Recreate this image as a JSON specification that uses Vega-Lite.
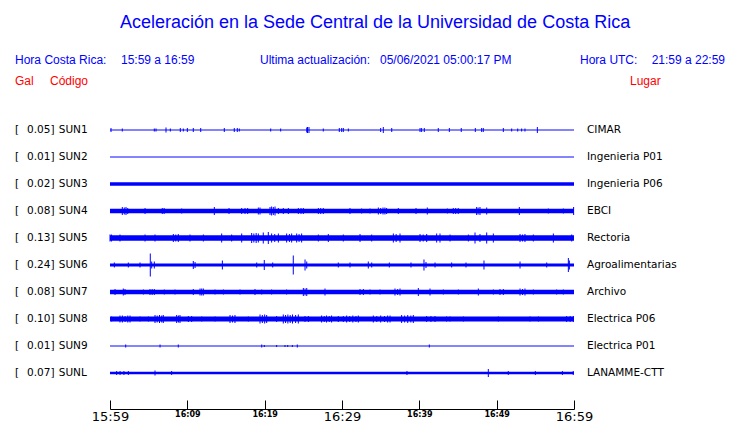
{
  "$schema": "https://vega.github.io/schema/vega-lite/v6.json",
  "width": 464,
  "height": 387,
  "autosize": {"type": "none"},
  "padding": {"left": 110, "top": 22, "right": 166, "bottom": 14},
  "background": "white",
  "config": {"view": {"stroke": null}, "font": "Liberation Sans"},
  "datasets": {
    "estaciones": [
      {"fila": 1, "codigo": "SUN1", "gal": 0.05, "lugar": "CIMAR", "ruido": 0.009},
      {"fila": 2, "codigo": "SUN2", "gal": 0.01, "lugar": "Ingenieria P01", "ruido": 0.009},
      {"fila": 3, "codigo": "SUN3", "gal": 0.02, "lugar": "Ingenieria P06", "ruido": 0.032},
      {"fila": 4, "codigo": "SUN4", "gal": 0.08, "lugar": "EBCI", "ruido": 0.042},
      {"fila": 5, "codigo": "SUN5", "gal": 0.13, "lugar": "Rectoria", "ruido": 0.051},
      {"fila": 6, "codigo": "SUN6", "gal": 0.24, "lugar": "Agroalimentarias", "ruido": 0.028},
      {"fila": 7, "codigo": "SUN7", "gal": 0.08, "lugar": "Archivo", "ruido": 0.042},
      {"fila": 8, "codigo": "SUN8", "gal": 0.10, "lugar": "Electrica P06", "ruido": 0.046},
      {"fila": 9, "codigo": "SUN9", "gal": 0.01, "lugar": "Electrica P01", "ruido": 0.009},
      {"fila": 10, "codigo": "SUNL", "gal": 0.07, "lugar": "LANAMME-CTT", "ruido": 0.023}
    ],
    "eventos": [
      {"codigo": "SUN1", "t": 0.13, "amp": 0.037}, {"codigo": "SUN1", "t": 1.59, "amp": 0.028}, {"codigo": "SUN1", "t": 5.73, "amp": 0.028}, {"codigo": "SUN1", "t": 5.95, "amp": 0.028},
      {"codigo": "SUN1", "t": 7.24, "amp": 0.046}, {"codigo": "SUN1", "t": 7.80, "amp": 0.028}, {"codigo": "SUN1", "t": 9.09, "amp": 0.037}, {"codigo": "SUN1", "t": 9.48, "amp": 0.028},
      {"codigo": "SUN1", "t": 10.0, "amp": 0.037}, {"codigo": "SUN1", "t": 10.77, "amp": 0.037}, {"codigo": "SUN1", "t": 11.73, "amp": 0.037}, {"codigo": "SUN1", "t": 14.78, "amp": 0.037},
      {"codigo": "SUN1", "t": 16.07, "amp": 0.037}, {"codigo": "SUN1", "t": 16.46, "amp": 0.037}, {"codigo": "SUN1", "t": 16.72, "amp": 0.028}, {"codigo": "SUN1", "t": 20.78, "amp": 0.028},
      {"codigo": "SUN1", "t": 22.07, "amp": 0.028}, {"codigo": "SUN1", "t": 25.44, "amp": 0.046}, {"codigo": "SUN1", "t": 25.54, "amp": 0.056}, {"codigo": "SUN1", "t": 25.73, "amp": 0.056},
      {"codigo": "SUN1", "t": 27.58, "amp": 0.028}, {"codigo": "SUN1", "t": 29.65, "amp": 0.037}, {"codigo": "SUN1", "t": 29.96, "amp": 0.037}, {"codigo": "SUN1", "t": 30.17, "amp": 0.037},
      {"codigo": "SUN1", "t": 30.82, "amp": 0.028}, {"codigo": "SUN1", "t": 35.0, "amp": 0.037}, {"codigo": "SUN1", "t": 35.34, "amp": 0.056}, {"codigo": "SUN1", "t": 36.43, "amp": 0.037},
      {"codigo": "SUN1", "t": 40.09, "amp": 0.037}, {"codigo": "SUN1", "t": 40.30, "amp": 0.037}, {"codigo": "SUN1", "t": 40.64, "amp": 0.037}, {"codigo": "SUN1", "t": 42.45, "amp": 0.037},
      {"codigo": "SUN1", "t": 43.88, "amp": 0.037}, {"codigo": "SUN1", "t": 45.42, "amp": 0.037}, {"codigo": "SUN1", "t": 47.24, "amp": 0.037}, {"codigo": "SUN1", "t": 48.06, "amp": 0.037},
      {"codigo": "SUN1", "t": 48.27, "amp": 0.037}, {"codigo": "SUN1", "t": 50.86, "amp": 0.037}, {"codigo": "SUN1", "t": 51.94, "amp": 0.028}, {"codigo": "SUN1", "t": 52.72, "amp": 0.028},
      {"codigo": "SUN1", "t": 53.23, "amp": 0.028}, {"codigo": "SUN1", "t": 53.66, "amp": 0.028}, {"codigo": "SUN1", "t": 55.26, "amp": 0.056},

      {"codigo": "SUN4", "t": 1.59, "amp": 0.074}, {"codigo": "SUN4", "t": 1.85, "amp": 0.065}, {"codigo": "SUN4", "t": 2.07, "amp": 0.074}, {"codigo": "SUN4", "t": 2.29, "amp": 0.056},
      {"codigo": "SUN4", "t": 4.53, "amp": 0.056}, {"codigo": "SUN4", "t": 6.76, "amp": 0.056}, {"codigo": "SUN4", "t": 7.0, "amp": 0.056}, {"codigo": "SUN4", "t": 9.27, "amp": 0.046},
      {"codigo": "SUN4", "t": 13.49, "amp": 0.074}, {"codigo": "SUN4", "t": 15.39, "amp": 0.056}, {"codigo": "SUN4", "t": 17.03, "amp": 0.056}, {"codigo": "SUN4", "t": 17.46, "amp": 0.056},
      {"codigo": "SUN4", "t": 17.8, "amp": 0.056}, {"codigo": "SUN4", "t": 19.18, "amp": 0.065}, {"codigo": "SUN4", "t": 19.4, "amp": 0.065}, {"codigo": "SUN4", "t": 20.69, "amp": 0.074},
      {"codigo": "SUN4", "t": 20.9, "amp": 0.083}, {"codigo": "SUN4", "t": 21.12, "amp": 0.074}, {"codigo": "SUN4", "t": 21.34, "amp": 0.083}, {"codigo": "SUN4", "t": 21.77, "amp": 0.056},
      {"codigo": "SUN4", "t": 22.41, "amp": 0.056}, {"codigo": "SUN4", "t": 23.06, "amp": 0.056}, {"codigo": "SUN4", "t": 24.35, "amp": 0.056}, {"codigo": "SUN4", "t": 24.7, "amp": 0.056},
      {"codigo": "SUN4", "t": 25.0, "amp": 0.056}, {"codigo": "SUN4", "t": 26.94, "amp": 0.056}, {"codigo": "SUN4", "t": 27.25, "amp": 0.056}, {"codigo": "SUN4", "t": 27.58, "amp": 0.056},
      {"codigo": "SUN4", "t": 31.03, "amp": 0.056}, {"codigo": "SUN4", "t": 32.54, "amp": 0.046}, {"codigo": "SUN4", "t": 33.62, "amp": 0.046}, {"codigo": "SUN4", "t": 34.7, "amp": 0.065},
      {"codigo": "SUN4", "t": 35.0, "amp": 0.056}, {"codigo": "SUN4", "t": 35.3, "amp": 0.065}, {"codigo": "SUN4", "t": 35.55, "amp": 0.065}, {"codigo": "SUN4", "t": 35.77, "amp": 0.056},
      {"codigo": "SUN4", "t": 37.28, "amp": 0.056}, {"codigo": "SUN4", "t": 39.57, "amp": 0.056}, {"codigo": "SUN4", "t": 41.03, "amp": 0.065}, {"codigo": "SUN4", "t": 43.62, "amp": 0.046},
      {"codigo": "SUN4", "t": 44.39, "amp": 0.056}, {"codigo": "SUN4", "t": 44.7, "amp": 0.056}, {"codigo": "SUN4", "t": 45.03, "amp": 0.056}, {"codigo": "SUN4", "t": 47.41, "amp": 0.074},
      {"codigo": "SUN4", "t": 47.6, "amp": 0.065}, {"codigo": "SUN4", "t": 47.84, "amp": 0.074}, {"codigo": "SUN4", "t": 48.71, "amp": 0.065}, {"codigo": "SUN4", "t": 52.93, "amp": 0.074},
      {"codigo": "SUN4", "t": 56.68, "amp": 0.046}, {"codigo": "SUN4", "t": 58.62, "amp": 0.046}, {"codigo": "SUN4", "t": 59.95, "amp": 0.074},

      {"codigo": "SUN5", "t": 0.0, "amp": 0.065}, {"codigo": "SUN5", "t": 0.2, "amp": 0.065}, {"codigo": "SUN5", "t": 1.29, "amp": 0.065}, {"codigo": "SUN5", "t": 4.53, "amp": 0.065},
      {"codigo": "SUN5", "t": 5.82, "amp": 0.065}, {"codigo": "SUN5", "t": 8.19, "amp": 0.074}, {"codigo": "SUN5", "t": 8.5, "amp": 0.065}, {"codigo": "SUN5", "t": 8.83, "amp": 0.074},
      {"codigo": "SUN5", "t": 10.34, "amp": 0.065}, {"codigo": "SUN5", "t": 12.07, "amp": 0.065}, {"codigo": "SUN5", "t": 14.44, "amp": 0.083}, {"codigo": "SUN5", "t": 15.73, "amp": 0.065},
      {"codigo": "SUN5", "t": 17.03, "amp": 0.083}, {"codigo": "SUN5", "t": 18.32, "amp": 0.093}, {"codigo": "SUN5", "t": 18.6, "amp": 0.083}, {"codigo": "SUN5", "t": 18.9, "amp": 0.093},
      {"codigo": "SUN5", "t": 19.18, "amp": 0.083}, {"codigo": "SUN5", "t": 19.82, "amp": 0.102}, {"codigo": "SUN5", "t": 20.47, "amp": 0.111}, {"codigo": "SUN5", "t": 20.9, "amp": 0.083},
      {"codigo": "SUN5", "t": 21.3, "amp": 0.074}, {"codigo": "SUN5", "t": 21.77, "amp": 0.083}, {"codigo": "SUN5", "t": 22.84, "amp": 0.083}, {"codigo": "SUN5", "t": 23.2, "amp": 0.074},
      {"codigo": "SUN5", "t": 23.49, "amp": 0.083}, {"codigo": "SUN5", "t": 24.14, "amp": 0.083}, {"codigo": "SUN5", "t": 24.45, "amp": 0.074}, {"codigo": "SUN5", "t": 24.78, "amp": 0.083},
      {"codigo": "SUN5", "t": 26.94, "amp": 0.065}, {"codigo": "SUN5", "t": 28.23, "amp": 0.074}, {"codigo": "SUN5", "t": 30.17, "amp": 0.065}, {"codigo": "SUN5", "t": 32.33, "amp": 0.074},
      {"codigo": "SUN5", "t": 33.84, "amp": 0.065}, {"codigo": "SUN5", "t": 36.64, "amp": 0.083}, {"codigo": "SUN5", "t": 37.0, "amp": 0.074}, {"codigo": "SUN5", "t": 37.5, "amp": 0.083},
      {"codigo": "SUN5", "t": 40.09, "amp": 0.074}, {"codigo": "SUN5", "t": 40.5, "amp": 0.065}, {"codigo": "SUN5", "t": 40.95, "amp": 0.074}, {"codigo": "SUN5", "t": 42.24, "amp": 0.083},
      {"codigo": "SUN5", "t": 42.67, "amp": 0.083}, {"codigo": "SUN5", "t": 43.97, "amp": 0.065}, {"codigo": "SUN5", "t": 46.34, "amp": 0.065}, {"codigo": "SUN5", "t": 47.2, "amp": 0.102},
      {"codigo": "SUN5", "t": 47.84, "amp": 0.074}, {"codigo": "SUN5", "t": 48.71, "amp": 0.102}, {"codigo": "SUN5", "t": 49.57, "amp": 0.083}, {"codigo": "SUN5", "t": 53.02, "amp": 0.074},
      {"codigo": "SUN5", "t": 53.35, "amp": 0.065}, {"codigo": "SUN5", "t": 53.66, "amp": 0.074}, {"codigo": "SUN5", "t": 54.74, "amp": 0.065}, {"codigo": "SUN5", "t": 57.33, "amp": 0.083},
      {"codigo": "SUN5", "t": 59.7, "amp": 0.065},

      {"codigo": "SUN6", "t": 0.56, "amp": 0.046}, {"codigo": "SUN6", "t": 2.37, "amp": 0.046}, {"codigo": "SUN6", "t": 3.88, "amp": 0.046}, {"codigo": "SUN6", "t": 5.21, "amp": 0.213},
      {"codigo": "SUN6", "t": 5.39, "amp": 0.065}, {"codigo": "SUN6", "t": 5.73, "amp": 0.065}, {"codigo": "SUN6", "t": 10.77, "amp": 0.074}, {"codigo": "SUN6", "t": 11.0, "amp": 0.056},
      {"codigo": "SUN6", "t": 14.53, "amp": 0.083}, {"codigo": "SUN6", "t": 18.97, "amp": 0.046}, {"codigo": "SUN6", "t": 19.95, "amp": 0.093}, {"codigo": "SUN6", "t": 21.04, "amp": 0.046},
      {"codigo": "SUN6", "t": 23.7, "amp": 0.176}, {"codigo": "SUN6", "t": 25.22, "amp": 0.102}, {"codigo": "SUN6", "t": 25.44, "amp": 0.065}, {"codigo": "SUN6", "t": 29.52, "amp": 0.046},
      {"codigo": "SUN6", "t": 31.03, "amp": 0.046}, {"codigo": "SUN6", "t": 33.4, "amp": 0.065}, {"codigo": "SUN6", "t": 33.84, "amp": 0.046}, {"codigo": "SUN6", "t": 36.12, "amp": 0.046},
      {"codigo": "SUN6", "t": 38.92, "amp": 0.046}, {"codigo": "SUN6", "t": 40.6, "amp": 0.102}, {"codigo": "SUN6", "t": 40.86, "amp": 0.056}, {"codigo": "SUN6", "t": 42.03, "amp": 0.046},
      {"codigo": "SUN6", "t": 44.18, "amp": 0.046}, {"codigo": "SUN6", "t": 46.03, "amp": 0.046}, {"codigo": "SUN6", "t": 48.36, "amp": 0.083}, {"codigo": "SUN6", "t": 53.02, "amp": 0.065},
      {"codigo": "SUN6", "t": 56.47, "amp": 0.046}, {"codigo": "SUN6", "t": 59.27, "amp": 0.13}, {"codigo": "SUN6", "t": 59.4, "amp": 0.083},

      {"codigo": "SUN7", "t": 0.65, "amp": 0.056}, {"codigo": "SUN7", "t": 1.72, "amp": 0.065}, {"codigo": "SUN7", "t": 1.94, "amp": 0.056}, {"codigo": "SUN7", "t": 4.31, "amp": 0.046},
      {"codigo": "SUN7", "t": 5.17, "amp": 0.056}, {"codigo": "SUN7", "t": 5.45, "amp": 0.056}, {"codigo": "SUN7", "t": 5.73, "amp": 0.056}, {"codigo": "SUN7", "t": 7.02, "amp": 0.046},
      {"codigo": "SUN7", "t": 8.41, "amp": 0.046}, {"codigo": "SUN7", "t": 10.77, "amp": 0.056}, {"codigo": "SUN7", "t": 11.64, "amp": 0.065}, {"codigo": "SUN7", "t": 11.86, "amp": 0.065},
      {"codigo": "SUN7", "t": 12.07, "amp": 0.065}, {"codigo": "SUN7", "t": 13.58, "amp": 0.046}, {"codigo": "SUN7", "t": 14.66, "amp": 0.046}, {"codigo": "SUN7", "t": 16.81, "amp": 0.046},
      {"codigo": "SUN7", "t": 18.75, "amp": 0.056}, {"codigo": "SUN7", "t": 19.62, "amp": 0.046}, {"codigo": "SUN7", "t": 20.9, "amp": 0.046}, {"codigo": "SUN7", "t": 22.84, "amp": 0.046},
      {"codigo": "SUN7", "t": 25.0, "amp": 0.074}, {"codigo": "SUN7", "t": 25.22, "amp": 0.065}, {"codigo": "SUN7", "t": 25.44, "amp": 0.074}, {"codigo": "SUN7", "t": 27.8, "amp": 0.065},
      {"codigo": "SUN7", "t": 32.33, "amp": 0.056}, {"codigo": "SUN7", "t": 32.76, "amp": 0.056}, {"codigo": "SUN7", "t": 33.62, "amp": 0.046}, {"codigo": "SUN7", "t": 34.91, "amp": 0.046},
      {"codigo": "SUN7", "t": 36.85, "amp": 0.065}, {"codigo": "SUN7", "t": 37.2, "amp": 0.056}, {"codigo": "SUN7", "t": 37.5, "amp": 0.065}, {"codigo": "SUN7", "t": 39.87, "amp": 0.074},
      {"codigo": "SUN7", "t": 41.38, "amp": 0.065}, {"codigo": "SUN7", "t": 43.1, "amp": 0.046}, {"codigo": "SUN7", "t": 45.04, "amp": 0.046}, {"codigo": "SUN7", "t": 47.63, "amp": 0.065},
      {"codigo": "SUN7", "t": 49.57, "amp": 0.046}, {"codigo": "SUN7", "t": 50.43, "amp": 0.056}, {"codigo": "SUN7", "t": 50.86, "amp": 0.056}, {"codigo": "SUN7", "t": 53.02, "amp": 0.065},
      {"codigo": "SUN7", "t": 53.35, "amp": 0.056}, {"codigo": "SUN7", "t": 53.66, "amp": 0.065}, {"codigo": "SUN7", "t": 54.74, "amp": 0.046}, {"codigo": "SUN7", "t": 57.76, "amp": 0.046},
      {"codigo": "SUN7", "t": 58.62, "amp": 0.046},

      {"codigo": "SUN8", "t": 0.22, "amp": 0.046}, {"codigo": "SUN8", "t": 1.29, "amp": 0.065}, {"codigo": "SUN8", "t": 1.6, "amp": 0.065}, {"codigo": "SUN8", "t": 1.95, "amp": 0.056},
      {"codigo": "SUN8", "t": 2.3, "amp": 0.065}, {"codigo": "SUN8", "t": 2.59, "amp": 0.065}, {"codigo": "SUN8", "t": 3.88, "amp": 0.046}, {"codigo": "SUN8", "t": 4.96, "amp": 0.046},
      {"codigo": "SUN8", "t": 5.82, "amp": 0.074}, {"codigo": "SUN8", "t": 6.1, "amp": 0.065}, {"codigo": "SUN8", "t": 6.4, "amp": 0.074}, {"codigo": "SUN8", "t": 6.69, "amp": 0.065},
      {"codigo": "SUN8", "t": 6.89, "amp": 0.074}, {"codigo": "SUN8", "t": 8.62, "amp": 0.074}, {"codigo": "SUN8", "t": 8.85, "amp": 0.065}, {"codigo": "SUN8", "t": 9.05, "amp": 0.074},
      {"codigo": "SUN8", "t": 10.13, "amp": 0.056}, {"codigo": "SUN8", "t": 10.56, "amp": 0.056}, {"codigo": "SUN8", "t": 11.86, "amp": 0.046}, {"codigo": "SUN8", "t": 13.58, "amp": 0.046},
      {"codigo": "SUN8", "t": 15.52, "amp": 0.074}, {"codigo": "SUN8", "t": 15.85, "amp": 0.065}, {"codigo": "SUN8", "t": 16.16, "amp": 0.074}, {"codigo": "SUN8", "t": 17.89, "amp": 0.046},
      {"codigo": "SUN8", "t": 19.4, "amp": 0.083}, {"codigo": "SUN8", "t": 19.7, "amp": 0.074}, {"codigo": "SUN8", "t": 20.0, "amp": 0.083}, {"codigo": "SUN8", "t": 20.26, "amp": 0.074},
      {"codigo": "SUN8", "t": 21.55, "amp": 0.056}, {"codigo": "SUN8", "t": 22.41, "amp": 0.083}, {"codigo": "SUN8", "t": 22.7, "amp": 0.074}, {"codigo": "SUN8", "t": 23.0, "amp": 0.083},
      {"codigo": "SUN8", "t": 23.3, "amp": 0.074}, {"codigo": "SUN8", "t": 23.6, "amp": 0.083}, {"codigo": "SUN8", "t": 24.0, "amp": 0.074}, {"codigo": "SUN8", "t": 24.35, "amp": 0.083},
      {"codigo": "SUN8", "t": 25.22, "amp": 0.056}, {"codigo": "SUN8", "t": 25.65, "amp": 0.056}, {"codigo": "SUN8", "t": 27.36, "amp": 0.065}, {"codigo": "SUN8", "t": 27.7, "amp": 0.056},
      {"codigo": "SUN8", "t": 28.0, "amp": 0.065}, {"codigo": "SUN8", "t": 28.35, "amp": 0.056}, {"codigo": "SUN8", "t": 28.65, "amp": 0.065}, {"codigo": "SUN8", "t": 29.52, "amp": 0.056},
      {"codigo": "SUN8", "t": 30.17, "amp": 0.056}, {"codigo": "SUN8", "t": 30.6, "amp": 0.065}, {"codigo": "SUN8", "t": 31.0, "amp": 0.056}, {"codigo": "SUN8", "t": 31.4, "amp": 0.065},
      {"codigo": "SUN8", "t": 31.8, "amp": 0.056}, {"codigo": "SUN8", "t": 32.11, "amp": 0.065}, {"codigo": "SUN8", "t": 34.05, "amp": 0.065}, {"codigo": "SUN8", "t": 34.5, "amp": 0.056},
      {"codigo": "SUN8", "t": 35.0, "amp": 0.065}, {"codigo": "SUN8", "t": 35.5, "amp": 0.056}, {"codigo": "SUN8", "t": 35.9, "amp": 0.065}, {"codigo": "SUN8", "t": 36.21, "amp": 0.065},
      {"codigo": "SUN8", "t": 37.71, "amp": 0.074}, {"codigo": "SUN8", "t": 38.1, "amp": 0.065}, {"codigo": "SUN8", "t": 38.5, "amp": 0.074}, {"codigo": "SUN8", "t": 38.9, "amp": 0.065},
      {"codigo": "SUN8", "t": 39.22, "amp": 0.074}, {"codigo": "SUN8", "t": 40.95, "amp": 0.056}, {"codigo": "SUN8", "t": 41.5, "amp": 0.056}, {"codigo": "SUN8", "t": 42.03, "amp": 0.056},
      {"codigo": "SUN8", "t": 43.53, "amp": 0.046}, {"codigo": "SUN8", "t": 43.97, "amp": 0.046}, {"codigo": "SUN8", "t": 45.69, "amp": 0.046}, {"codigo": "SUN8", "t": 50.21, "amp": 0.046},
      {"codigo": "SUN8", "t": 54.31, "amp": 0.046}, {"codigo": "SUN8", "t": 55.39, "amp": 0.046}, {"codigo": "SUN8", "t": 59.05, "amp": 0.056}, {"codigo": "SUN8", "t": 59.5, "amp": 0.056},
      {"codigo": "SUN8", "t": 59.91, "amp": 0.056},

      {"codigo": "SUN9", "t": 2.03, "amp": 0.028}, {"codigo": "SUN9", "t": 6.47, "amp": 0.028}, {"codigo": "SUN9", "t": 8.83, "amp": 0.028}, {"codigo": "SUN9", "t": 19.62, "amp": 0.028},
      {"codigo": "SUN9", "t": 19.95, "amp": 0.019}, {"codigo": "SUN9", "t": 21.55, "amp": 0.019}, {"codigo": "SUN9", "t": 22.63, "amp": 0.019}, {"codigo": "SUN9", "t": 22.98, "amp": 0.019},
      {"codigo": "SUN9", "t": 23.58, "amp": 0.019}, {"codigo": "SUN9", "t": 24.22, "amp": 0.028}, {"codigo": "SUN9", "t": 41.29, "amp": 0.028},

      {"codigo": "SUNL", "t": 0.86, "amp": 0.037}, {"codigo": "SUNL", "t": 1.3, "amp": 0.037}, {"codigo": "SUNL", "t": 1.8, "amp": 0.037}, {"codigo": "SUNL", "t": 2.37, "amp": 0.037},
      {"codigo": "SUNL", "t": 5.82, "amp": 0.046}, {"codigo": "SUNL", "t": 7.97, "amp": 0.037}, {"codigo": "SUNL", "t": 38.4, "amp": 0.037}, {"codigo": "SUNL", "t": 48.92, "amp": 0.074},
      {"codigo": "SUNL", "t": 51.5, "amp": 0.037}, {"codigo": "SUNL", "t": 55.0, "amp": 0.037}, {"codigo": "SUNL", "t": 58.5, "amp": 0.037}, {"codigo": "SUNL", "t": 59.9, "amp": 0.037}
    ]
  },
  "layer": [
    {
      "data": {"name": "estaciones"},
      "mark": {"type": "rule", "color": "#0000ff"},
      "encoding": {
        "x": {
          "datum": 0,
          "type": "quantitative",
          "scale": {"domain": [0, 60], "nice": false, "zero": false},
          "axis": {
            "title": null,
            "grid": false,
            "domain": true,
            "values": [0, 5, 10, 15, 20, 25, 30, 35, 40, 45, 50, 55, 60],
            "tickSize": -9,
            "tickColor": "black",
            "tickWidth": 1,
            "domainColor": "black",
            "domainWidth": 1,
            "labelExpr": "datum.value % 10 === 0 ? (floor((959 + datum.value) / 60) + ':' + ((959 + datum.value) % 60 < 10 ? '0' : '') + ((959 + datum.value) % 60)) : ''",
            "labelFont": "DejaVu Sans",
            "labelFontSize": {"condition": {"test": "datum.value % 30 === 0", "value": 13}, "value": 8},
            "labelFontWeight": {"condition": {"test": "datum.value % 30 === 0", "value": "normal"}, "value": "bold"},
            "labelColor": "black",
            "labelPadding": 10,
            "labelOverlap": false,
            "labelFlush": false,
            "labelBound": false
          }
        },
        "x2": {"datum": 60},
        "y": {
          "field": "fila",
          "type": "quantitative",
          "scale": {"domain": [-3, 11.3333], "reverse": true, "nice": false, "zero": false},
          "axis": null
        },
        "strokeWidth": {
          "field": "ruido",
          "type": "quantitative",
          "scale": {"domain": [0, 0.25], "range": [0, 27]},
          "legend": null
        }
      }
    },
    {
      "data": {"name": "eventos"},
      "transform": [
        {"lookup": "codigo", "from": {"data": {"name": "estaciones"}, "key": "codigo", "fields": ["fila"]}}
      ],
      "mark": {"type": "tick", "orient": "vertical", "color": "#0000ff", "thickness": 1, "opacity": 1},
      "encoding": {
        "x": {"field": "t", "type": "quantitative"},
        "y": {"field": "fila", "type": "quantitative"},
        "size": {
          "field": "amp",
          "type": "quantitative",
          "scale": {"domain": [0, 0.25], "range": [0, 27]},
          "legend": null
        }
      }
    },
    {
      "data": {"name": "estaciones"},
      "mark": {"type": "text", "text": "[", "align": "left", "baseline": "middle", "font": "DejaVu Sans", "fontSize": 10.5, "color": "black"},
      "encoding": {"x": {"datum": -12.28}, "y": {"field": "fila", "type": "quantitative"}}
    },
    {
      "data": {"name": "estaciones"},
      "mark": {"type": "text", "align": "right", "baseline": "middle", "font": "DejaVu Sans", "fontSize": 10.5, "color": "black"},
      "encoding": {"x": {"datum": -7.7}, "y": {"field": "fila", "type": "quantitative"}, "text": {"field": "gal", "type": "quantitative", "format": ".2f"}}
    },
    {
      "data": {"name": "estaciones"},
      "mark": {"type": "text", "text": "]", "align": "left", "baseline": "middle", "font": "DejaVu Sans", "fontSize": 10.5, "color": "black"},
      "encoding": {"x": {"datum": -7.7}, "y": {"field": "fila", "type": "quantitative"}}
    },
    {
      "data": {"name": "estaciones"},
      "mark": {"type": "text", "align": "left", "baseline": "middle", "font": "DejaVu Sans", "fontSize": 10.5, "color": "black"},
      "encoding": {"x": {"datum": -6.63}, "y": {"field": "fila", "type": "quantitative"}, "text": {"field": "codigo"}}
    },
    {
      "data": {"name": "estaciones"},
      "mark": {"type": "text", "align": "left", "baseline": "middle", "font": "DejaVu Sans", "fontSize": 10.5, "color": "black"},
      "encoding": {"x": {"datum": 61.68}, "y": {"field": "fila", "type": "quantitative"}, "text": {"field": "lugar"}}
    },
    {
      "data": {"values": [{"texto": "Aceleración en la Sede Central de la Universidad de Costa Rica"}]},
      "mark": {"type": "text", "align": "center", "baseline": "middle", "font": "Liberation Sans", "fontSize": 18, "color": "#0000ff"},
      "encoding": {"x": {"datum": 34.27}, "y": {"datum": -2.95}, "text": {"field": "texto"}}
    },
    {
      "data": {"values": [{"texto": "Hora Costa Rica:"}]},
      "mark": {"type": "text", "align": "left", "baseline": "middle", "font": "Liberation Sans", "fontSize": 12, "color": "#0000ff"},
      "encoding": {"x": {"datum": -12.28}, "y": {"datum": -1.593}, "text": {"field": "texto"}}
    },
    {
      "data": {"values": [{"texto": "15:59 a 16:59"}]},
      "mark": {"type": "text", "align": "left", "baseline": "middle", "font": "Liberation Sans", "fontSize": 12, "color": "#0000ff"},
      "encoding": {"x": {"datum": 1.42}, "y": {"datum": -1.593}, "text": {"field": "texto"}}
    },
    {
      "data": {"values": [{"texto": "Ultima actualización:"}]},
      "mark": {"type": "text", "align": "left", "baseline": "middle", "font": "Liberation Sans", "fontSize": 12, "color": "#0000ff"},
      "encoding": {"x": {"datum": 19.4}, "y": {"datum": -1.593}, "text": {"field": "texto"}}
    },
    {
      "data": {"values": [{"texto": "05/06/2021 05:00:17 PM"}]},
      "mark": {"type": "text", "align": "left", "baseline": "middle", "font": "Liberation Sans", "fontSize": 12, "color": "#0000ff"},
      "encoding": {"x": {"datum": 34.91}, "y": {"datum": -1.593}, "text": {"field": "texto"}}
    },
    {
      "data": {"values": [{"texto": "Hora UTC:"}]},
      "mark": {"type": "text", "align": "left", "baseline": "middle", "font": "Liberation Sans", "fontSize": 12, "color": "#0000ff"},
      "encoding": {"x": {"datum": 60.78}, "y": {"datum": -1.593}, "text": {"field": "texto"}}
    },
    {
      "data": {"values": [{"texto": "21:59 a 22:59"}]},
      "mark": {"type": "text", "align": "right", "baseline": "middle", "font": "Liberation Sans", "fontSize": 12, "color": "#0000ff"},
      "encoding": {"x": {"datum": 79.53}, "y": {"datum": -1.593}, "text": {"field": "texto"}}
    },
    {
      "data": {"values": [{"texto": "Gal"}]},
      "mark": {"type": "text", "align": "left", "baseline": "middle", "font": "Liberation Sans", "fontSize": 12, "color": "#ff0000"},
      "encoding": {"x": {"datum": -12.28}, "y": {"datum": -0.815}, "text": {"field": "texto"}}
    },
    {
      "data": {"values": [{"texto": "Código"}]},
      "mark": {"type": "text", "align": "left", "baseline": "middle", "font": "Liberation Sans", "fontSize": 12, "color": "#ff0000"},
      "encoding": {"x": {"datum": -7.76}, "y": {"datum": -0.815}, "text": {"field": "texto"}}
    },
    {
      "data": {"values": [{"texto": "Lugar"}]},
      "mark": {"type": "text", "align": "left", "baseline": "middle", "font": "Liberation Sans", "fontSize": 12, "color": "#ff0000"},
      "encoding": {"x": {"datum": 67.24}, "y": {"datum": -0.815}, "text": {"field": "texto"}}
    }
  ]
}
